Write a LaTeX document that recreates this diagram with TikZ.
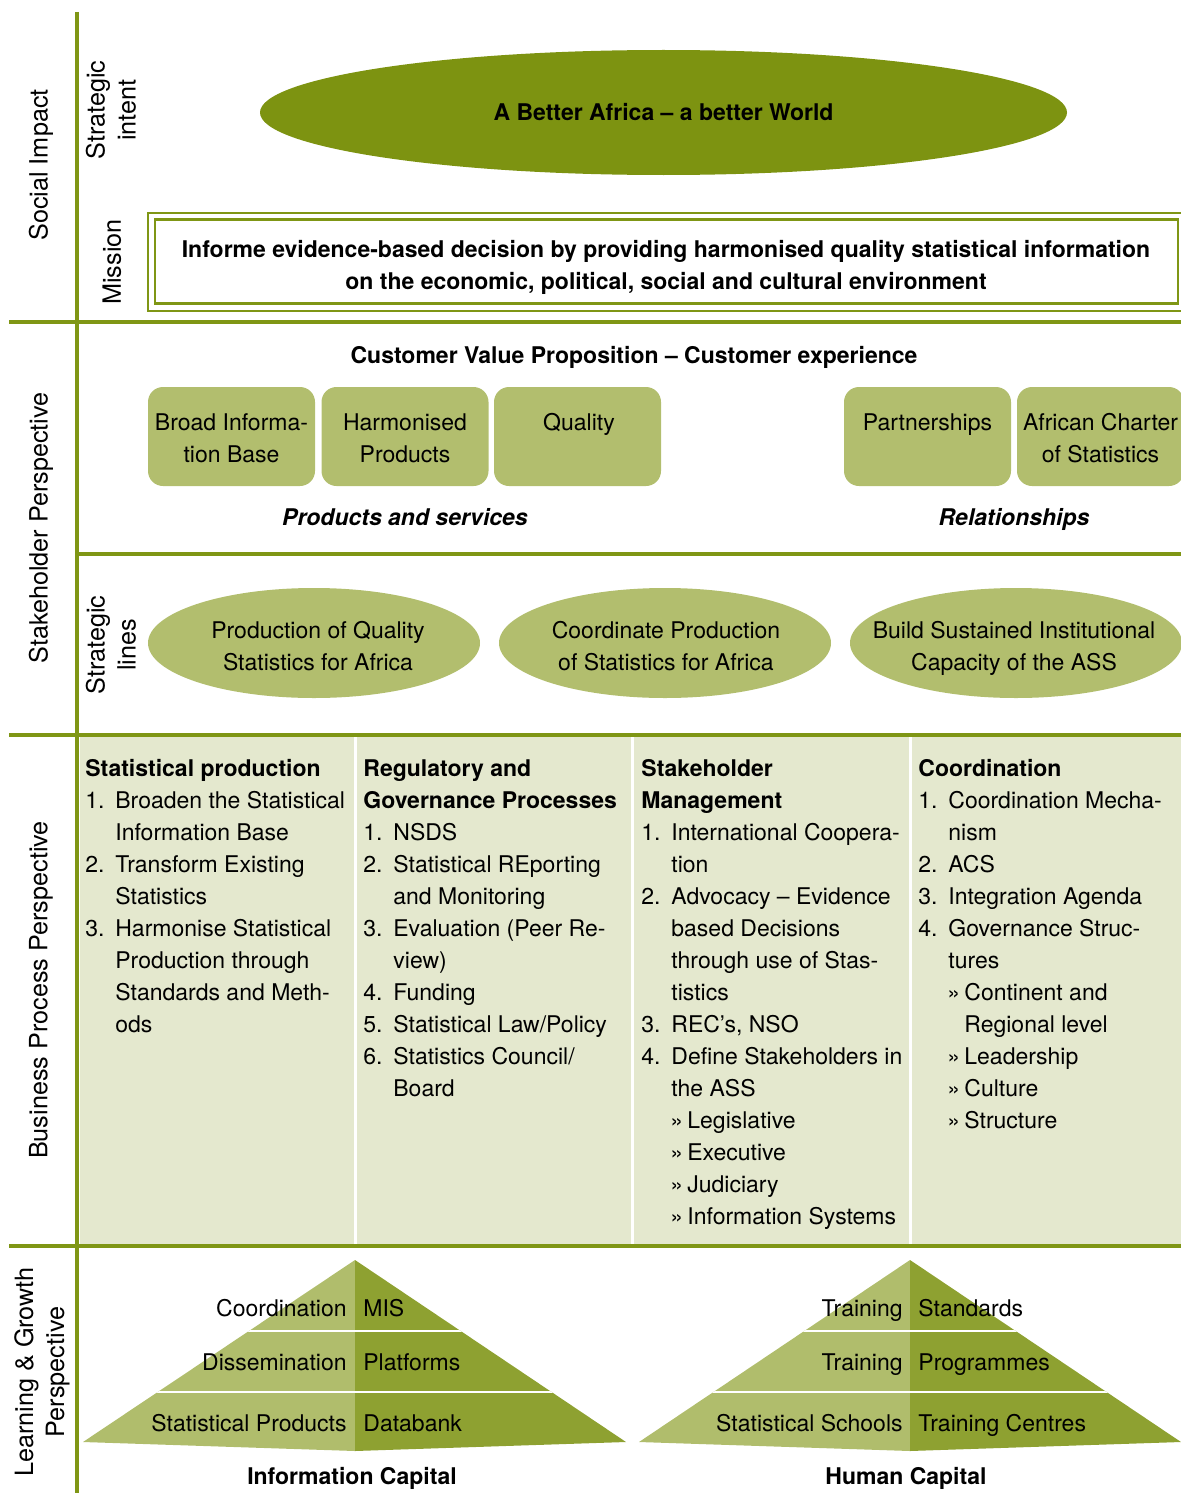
\documentclass[tikz,border=0pt]{standalone}
\usepackage{fontspec}
\setmainfont{TeX Gyre Heros}
\usetikzlibrary{shapes.geometric}
\definecolor{gmain}{HTML}{7F9615}
\definecolor{gdark}{HTML}{7D9311}
\definecolor{glight}{HTML}{B2BE6E}
\definecolor{gpl}{HTML}{B0BD6C}
\definecolor{gpr}{HTML}{8EA131}
\definecolor{gbg}{HTML}{E4E8CE}
\newcommand\fs{\fontsize{11.5}{16}\selectfont}
\newcommand\fsr{\fontsize{12.6}{15.5}\selectfont}
\newcommand\itm[2]{\makebox[15pt][l]{#1}#2}
\newcommand\cnt[1]{\hspace*{15pt}#1}
\newcommand\subi[1]{\hspace*{14.5pt}\makebox[8.5pt][l]{»}#1}
\newcommand\subc[1]{\hspace*{23pt}#1}
\tikzset{
  txt/.style={inner sep=0pt, font=\fs},
  rtxt/.style={inner sep=0pt, font=\fsr, rotate=90, align=center},
  bt/.style={inner sep=0pt, font=\fs\bfseries},
  bit/.style={inner sep=0pt, font=\fs\bfseries\itshape},
  gline/.style={draw=gmain, line width=2.4pt},
  lbox/.style={fill=glight, rounded corners=7.5pt, minimum width=83.5pt, minimum height=49.5pt, inner sep=0pt},
  sline/.style={ellipse, fill=glight, minimum width=166pt, minimum height=55pt, inner sep=0pt},
  col/.style={inner sep=0pt, font=\fs, align=left, anchor=north west},
  sep/.style={draw=white, line width=1.5pt}
}
\begin{document}
\begin{tikzpicture}[x=0.5pt,y=-0.5pt]
\useasboundingbox (0,0) rectangle (1181,1493);

% business process background
\fill[gbg] (79.5,737) rectangle (1181,1244);
\coordinate (s1t) at (355,737); \coordinate (s1b) at (355,1244);
\coordinate (s2t) at (632,737); \coordinate (s2b) at (632,1244);
\coordinate (s3t) at (910,737); \coordinate (s3b) at (910,1244);
\draw[sep] (s1t) -- (s1b);
\draw[sep] (s2t) -- (s2b);
\draw[sep] (s3t) -- (s3b);

% frame lines
\draw[gline] (77,12) -- (77,1493);
\draw[gline] (9,322) -- (1181,322);
\draw[gline] (77,554) -- (1181,554);
\draw[gline] (9,735) -- (1181,735);
\draw[gline] (9,1246) -- (1181,1246);

% side labels
\node[rtxt] (lsi) at (41,165) {Social Impact};
\node[rtxt] (lint) at (111,110) {Strategic\\intent};
\node[rtxt] (lmis) at (112,262) {Mission};
\node[rtxt] (lsp) at (41,528) {Stakeholder Perspective};
\node[rtxt] (lsl) at (111,645) {Strategic\\lines};
\node[rtxt] (lbp) at (41,990) {Business Process Perspective};
\node[rtxt] (llg) at (42,1372) {Learning \& Growth\\Perspective};

% strategic intent
\node[ellipse, fill=gdark, minimum width=403.5pt, minimum height=62.5pt, inner sep=0pt, font=\fs\bfseries] (intent) at (663.5,112.5) {A Better Africa -- a better World};

% mission
\node[draw=gmain, line width=1pt, minimum width=521pt, minimum height=49pt, inner sep=0pt] (mout) at (669,262) {};
\node[draw=gmain, line width=1.4pt, minimum width=511.5pt, minimum height=42pt, inner sep=0pt] (min) at (666.5,261.5) {};
\node[bt, align=center, anchor=north] (mtxt) at (666,240) {Informe evidence-based decision by providing harmonised quality statistical information\\on the economic, political, social and cultural environment};

% customer value proposition
\node[bt, anchor=north] (cvp) at (634,346) {Customer Value Proposition -- Customer experience};
\node[lbox] (b1) at (231.5,436.5) {};
\node[lbox] (b2) at (405,436.5) {};
\node[lbox] (b3) at (577.5,436.5) {};
\node[lbox] (b4) at (927.5,436.5) {};
\node[lbox] (b5) at (1100.5,436.5) {};
\node[txt, align=center, anchor=north] (b1t) at (231.5,413) {Broad Informa-\\tion Base};
\node[txt, align=center, anchor=north] (b2t) at (405,413) {Harmonised\\Products};
\node[txt, anchor=north] (b3t) at (579,413) {Quality};
\node[txt, anchor=north] (b4t) at (927.5,413) {Partnerships};
\node[txt, align=center, anchor=north] (b5t) at (1100.5,413) {African Charter\\of Statistics};
\node[bit, anchor=north] (pas) at (405,508) {Products and services};
\node[bit, anchor=north] (rel) at (1014,508) {Relationships};

% strategic lines
\node[sline] (e1) at (314,643) {};
\node[sline] (e2) at (665,643) {};
\node[sline] (e3) at (1016,643) {};
\node[txt, align=center, anchor=north] (e1t) at (318,621) {Production of Quality\\Statistics for Africa};
\node[txt, align=center, anchor=north] (e2t) at (666,621) {Coordinate Production\\of Statistics for Africa};
\node[txt, align=center, anchor=north] (e3t) at (1014,621) {Build Sustained Institutional\\Capacity of the ASS};

% business process columns
\node[col] (c1) at (85,759) {\textbf{Statistical production}\\
\itm{1.}{Broaden the Statistical}\\
\cnt{Information Base}\\
\itm{2.}{Transform Existing}\\
\cnt{Statistics}\\
\itm{3.}{Harmonise Statistical}\\
\cnt{Production through}\\
\cnt{Standards and Meth-}\\
\cnt{ods}};
\node[col] (c2) at (363,759) {\textbf{Regulatory and}\\
\textbf{Governance Processes}\\
\itm{1.}{NSDS}\\
\itm{2.}{Statistical REporting}\\
\cnt{and Monitoring}\\
\itm{3.}{Evaluation (Peer Re-}\\
\cnt{view)}\\
\itm{4.}{Funding}\\
\itm{5.}{Statistical Law/Policy}\\
\itm{6.}{Statistics Council/}\\
\cnt{Board}};
\node[col] (c3) at (641,759) {\textbf{Stakeholder}\\
\textbf{Management}\\
\itm{1.}{International Coopera-}\\
\cnt{tion}\\
\itm{2.}{Advocacy -- Evidence}\\
\cnt{based Decisions}\\
\cnt{through use of Stas-}\\
\cnt{tistics}\\
\itm{3.}{REC’s, NSO}\\
\itm{4.}{Define Stakeholders in}\\
\cnt{the ASS}\\
\subi{Legislative}\\
\subi{Executive}\\
\subi{Judiciary}\\
\subi{Information Systems}};
\node[col] (c4) at (918,759) {\textbf{Coordination}\\
\itm{1.}{Coordination Mecha-}\\
\cnt{nism}\\
\itm{2.}{ACS}\\
\itm{3.}{Integration Agenda}\\
\itm{4.}{Governance Struc-}\\
\cnt{tures}\\
\subi{Continent and}\\
\subc{Regional level}\\
\subi{Leadership}\\
\subi{Culture}\\
\subi{Structure}};

% pyramids
\fill[gpl] (355,1260) -- (83,1442) -- (355,1451) -- cycle;
\fill[gpr] (355,1260) -- (626,1442) -- (355,1451) -- cycle;
\fill[gpl] (910,1260) -- (639,1442) -- (910,1451) -- cycle;
\fill[gpr] (910,1260) -- (1181,1442) -- (910,1451) -- cycle;
\begin{scope}
\clip (355,1260) -- (83,1442) -- (355,1451) -- (626,1442) -- cycle
      (910,1260) -- (639,1442) -- (910,1451) -- (1181,1442) -- cycle;
\draw[white, line width=1pt] (0,1331) -- (1181,1331);
\draw[white, line width=1pt] (0,1391.5) -- (1181,1391.5);
\end{scope}

\node[txt, anchor=base east] (p1l) at (347,1316) {Coordination};
\node[txt, anchor=base west] (p1r) at (363,1316) {MIS};
\node[txt, anchor=base east] (p2l) at (347,1370) {Dissemination};
\node[txt, anchor=base west] (p2r) at (363,1370) {Platforms};
\node[txt, anchor=base east] (p3l) at (347,1431) {Statistical Products};
\node[txt, anchor=base west] (p3r) at (363,1431) {Databank};
\node[txt, anchor=base east] (q1l) at (903,1316) {Training};
\node[txt, anchor=base west] (q1r) at (918,1316) {Standards};
\node[txt, anchor=base east] (q2l) at (903,1370) {Training};
\node[txt, anchor=base west] (q2r) at (918,1370) {Programmes};
\node[txt, anchor=base east] (q3l) at (903,1431) {Statistical Schools};
\node[txt, anchor=base west] (q3r) at (918,1431) {Training Centres};
\node[bt, anchor=base] (ic) at (352,1484) {Information Capital};
\node[bt, anchor=base] (hc) at (906,1484) {Human Capital};
\end{tikzpicture}
\end{document}
